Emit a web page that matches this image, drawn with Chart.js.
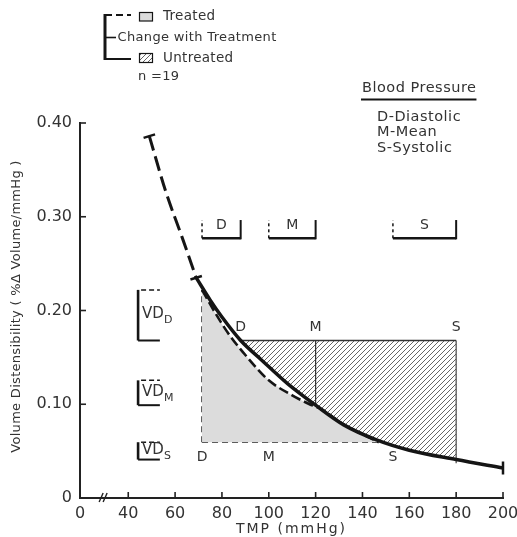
<!DOCTYPE html>
<html><head><meta charset="utf-8">
<script src="https://cdn.jsdelivr.net/npm/chart.js@4"></script>
<style>html,body{margin:0;padding:0;background:#fff}canvas{display:block}</style>
</head><body>
<canvas id="c" width="517" height="537"></canvas>
<script>
// ---------------- data ----------------
const untreatedX = [69, 75, 80, 88, 97, 108, 120, 132, 146, 160, 180, 200];
const untreatedY = [0.235, 0.211, 0.193, 0.168, 0.147, 0.122, 0.099, 0.078, 0.062, 0.051, 0.041, 0.032];
const extrapX = [49, 56, 63, 69];
const extrapY = [0.386, 0.327, 0.278, 0.235];
const treatedX = [71.5, 77, 82.6, 90, 100, 110, 117, 122.5, 132, 147];
const treatedY = [0.222, 0.198, 0.176, 0.1525, 0.1255, 0.1095, 0.1005, 0.0945, 0.0785, 0.0595];
const bpLetters = ['D', 'M', 'S'];
const bpNames = ['D-Diastolic', 'M-Mean', 'S-Systolic'];
const treatedBP = [71.5, 100, 153];
const treatedVD = [0.222, 0.1255, 0.0595];
const untreatedBP = [88, 120, 180];
const untreatedVD = [0.168, 0.099, 0.041];
const xTicks = [40, 60, 80, 100, 120, 140, 160, 180, 200];
const yTicks = [0, 0.1, 0.2, 0.3, 0.4];
const nSubjects = 19;

// ---------------- layout constants ----------------
const X_AXIS_START = 19.4;   // value at the broken-axis origin (labelled 0)
const BRACKET_Y = 0.277;     // top range brackets
const BRACKET_H = 0.0195;
const VD_BRACKET_X = 44.2;   // left VD brackets
const VD_BRACKET_X2 = 53.5;
const FONT = '"DejaVu Sans", sans-serif';
const INK = '#151515';
const TEXT = '#333';

// hatch pattern
function makeHatch() {
  const s = 5, c = document.createElement('canvas');
  c.width = s; c.height = s;
  const g = c.getContext('2d');
  g.strokeStyle = '#555'; g.lineWidth = 0.9;
  g.beginPath();
  g.moveTo(0, s); g.lineTo(s, 0);
  g.moveTo(-1, 1); g.lineTo(1, -1);
  g.moveTo(s - 1, s + 1); g.lineTo(s + 1, s - 1);
  g.stroke();
  return g.createPattern(c, 'repeat');
}
const hatch = makeHatch();
const GRAY = '#dcdcdc';

const pts = (xs, ys) => xs.map((x, i) => ({x, y: ys[i]}));
const seg = (x1, y1, x2, y2) => [{x: x1, y: y1}, {x: x2, y: y2}];

const lastU = untreatedX.length - 1;
const lastE = extrapX.length - 1;
const lastT = treatedX.length - 1;
const hatchPts = pts(untreatedX, untreatedY).filter(p => p.x >= untreatedBP[0] && p.x <= untreatedBP[2]);

const base = {fill: false, pointRadius: 0, clip: false, tension: 0};
const thin = (data, color, w, dash, order) => Object.assign({}, base, {
  data, borderColor: color, borderWidth: w, borderDash: dash || [], order
});

const datasets = [
  // solid untreated curve with end cap
  Object.assign({}, base, {
    data: pts(untreatedX, untreatedY), borderColor: INK, borderWidth: 3.5,
    cubicInterpolationMode: 'monotone', order: 0,
    pointStyle: 'line', pointRotation: 90,
    pointRadius: c => c.dataIndex === lastU ? 6.5 : 0,
    pointBorderColor: INK, pointBorderWidth: 2.5
  }),
  // dashed extrapolation with caps
  Object.assign({}, base, {
    data: pts(extrapX, extrapY), borderColor: INK, borderWidth: 3,
    borderDash: [15, 6], cubicInterpolationMode: 'monotone', order: 1,
    pointStyle: 'line', pointRotation: -17,
    pointRadius: c => (c.dataIndex === 0 || c.dataIndex === lastE) ? 6 : 0,
    pointBorderColor: INK, pointBorderWidth: 2.5
  }),
  // treated curve (dashed) with grey area beneath
  Object.assign({}, base, {
    data: pts(treatedX, treatedY), borderColor: INK, borderWidth: 2.6,
    borderDash: [10, 4], cubicInterpolationMode: 'monotone', order: 2,
    fill: {value: treatedVD[2]}, backgroundColor: GRAY
  }),
  // untreated hatched area
  Object.assign({}, base, {
    data: hatchPts, borderWidth: 0, borderColor: 'rgba(0,0,0,0)',
    cubicInterpolationMode: 'monotone', order: 9,
    fill: {value: untreatedVD[0]}, backgroundColor: hatch
  }),
  // untreated outline
  thin(seg(untreatedBP[0], untreatedVD[0], untreatedBP[2], untreatedVD[0]), '#333', 1.3, null, 5),
  thin(seg(untreatedBP[1], untreatedVD[0], untreatedBP[1], untreatedVD[1]), '#333', 1.2, null, 5),
  thin(seg(untreatedBP[2], untreatedVD[0], untreatedBP[2], untreatedVD[2] - 0.004), '#444', 1.2, null, 5),
  // treated outline (dashed)
  thin(seg(treatedBP[0], treatedVD[2], treatedBP[0], treatedVD[0]), '#333', 1.6, [6, 4], 5),
  thin(seg(treatedBP[0], treatedVD[2], treatedX[lastT], treatedVD[2]), '#333', 1.6, [6, 4], 5),
  thin(seg(treatedBP[1], treatedVD[2], treatedBP[1], treatedVD[1]), '#333', 1.6, [6, 4], 5)
];

// ---------------- annotation plugin ----------------
function text(ctx, s, x, y, size, align, spacing) {
  ctx.save();
  ctx.font = size + 'px ' + FONT;
  ctx.fillStyle = TEXT;
  ctx.textAlign = align || 'left';
  ctx.textBaseline = 'middle';
  if ('letterSpacing' in ctx) ctx.letterSpacing = (spacing || 0) + 'px';
  ctx.fillText(s, x, y);
  const w = ctx.measureText(s).width;
  ctx.restore();
  return w;
}
function line(ctx, x1, y1, x2, y2, w, dash, color) {
  ctx.save();
  ctx.strokeStyle = color || INK;
  ctx.lineWidth = w;
  ctx.setLineDash(dash || []);
  ctx.beginPath(); ctx.moveTo(x1, y1); ctx.lineTo(x2, y2); ctx.stroke();
  ctx.restore();
}

const annotations = {
  id: 'annotations',
  afterDraw(chart) {
    const ctx = chart.ctx, ca = chart.chartArea;
    const X = v => chart.scales.x.getPixelForValue(v);
    const Y = v => chart.scales.y.getPixelForValue(v);

    // inner tick marks
    xTicks.forEach(v => line(ctx, X(v), ca.bottom, X(v), ca.bottom - 6, 1.6, null, '#222'));
    yTicks.slice(1).forEach(v => line(ctx, ca.left, Y(v), ca.left + 6, Y(v), 1.6, null, '#222'));
    // axis break //
    const bx = (ca.left + X(xTicks[0])) / 2;
    line(ctx, bx - 5, ca.bottom + 4, bx - 1, ca.bottom - 5, 1.4, null, '#222');
    line(ctx, bx - 1, ca.bottom + 4, bx + 3, ca.bottom - 5, 1.4, null, '#222');

    // axis titles
    text(ctx, 'TMP (mmHg)', (ca.left + ca.right) / 2, 529, 14, 'center', 2);
    ctx.save();
    ctx.translate(17, (ca.top + ca.bottom) / 2 - 4);
    ctx.rotate(-Math.PI / 2);
    text(ctx, 'Volume Distensibility ( %\u0394 Volume/mmHg )', 0, 0, 13, 'center', 0.3);
    ctx.restore();

    // top range brackets
    const by = Y(BRACKET_Y), bt = Y(BRACKET_Y + BRACKET_H);
    for (let i = 0; i < 3; i++) {
      const x1 = X(treatedBP[i]), x2 = X(untreatedBP[i]);
      line(ctx, x1, by, x2, by, 2.6);
      line(ctx, x2, by + 1, x2, bt, 2);
      line(ctx, x1, by, x1, bt, 1.5, [3, 3]);
      text(ctx, bpLetters[i], (x1 + x2) / 2, by - 13, 14, 'center');
    }

    // point labels on the chart
    for (let i = 0; i < 3; i++) {
      text(ctx, bpLetters[i], X(untreatedBP[i]), Y(untreatedVD[0]) - 13, 14, 'center');
      text(ctx, bpLetters[i], X(treatedBP[i]), Y(treatedVD[2]) + 15, 14, 'center');
    }

    // left VD brackets
    const vx = X(VD_BRACKET_X), vx2 = X(VD_BRACKET_X2);
    for (let i = 0; i < 3; i++) {
      const yt = Y(treatedVD[i]), yb = Y(untreatedVD[i]);
      line(ctx, vx, yt, vx, yb, 2.6);
      line(ctx, vx + 3, yt, vx2, yt, 1.5, [5, 3]);
      line(ctx, vx, yb, vx2, yb, 2);
      const my = (yt + yb) / 2;
      const w = text(ctx, 'VD', vx + 4, my - 1, 15, 'left');
      text(ctx, bpLetters[i], vx + 4 + w, my + 5, 11, 'left');
    }

    // top-left legend
    line(ctx, 105, 14, 105, 60, 3);
    line(ctx, 105, 15, 131, 15, 2, [7, 4]);
    ctx.save();
    ctx.fillStyle = GRAY; ctx.fillRect(139.5, 12.5, 13, 8.5);
    ctx.strokeStyle = INK; ctx.lineWidth = 1.2; ctx.strokeRect(139.5, 12.5, 13, 8.5);
    ctx.fillStyle = hatch; ctx.fillRect(139.5, 53.5, 13, 9);
    ctx.strokeRect(139.5, 53.5, 13, 9);
    ctx.restore();
    text(ctx, 'Treated', 163, 16.5, 13.5, 'left', 0.3);
    line(ctx, 105, 37.5, 116, 37.5, 1.6);
    text(ctx, 'Change with Treatment', 117.5, 37.5, 13, 'left', 0.35);
    line(ctx, 105, 59, 131, 59, 2);
    text(ctx, 'Untreated', 163, 58, 13.5, 'left', 0.3);
    text(ctx, 'n =' + nSubjects, 138, 77, 13, 'left', 0.3);

    // blood pressure key
    const kw = text(ctx, 'Blood Pressure', 362, 88, 14.5, 'left', 0.5);
    line(ctx, 361, 99.5, 362 + kw, 99.5, 2);
    bpNames.forEach((s, i) => text(ctx, s, 377, 117 + i * 15.7, 14.5, 'left', 0.5));
  }
};

new Chart(document.getElementById('c'), {
  type: 'line',
  data: {datasets},
  plugins: [annotations],
  options: {
    responsive: false,
    animation: false,
    devicePixelRatio: 1,
    layout: {padding: {top: 123, right: 14, left: 0, bottom: 0}},
    plugins: {legend: {display: false}, tooltip: {enabled: false}, title: {display: false}},
    scales: {
      x: {
        type: 'linear', min: X_AXIS_START, max: 200,
        afterBuildTicks: s => { s.ticks = [{value: X_AXIS_START}].concat(xTicks.map(v => ({value: v}))); },
        afterFit: s => { s.height = 39; s.paddingLeft = 0; s.paddingRight = 0; },
        grid: {display: false, drawTicks: false},
        border: {display: true, color: '#222', width: 2},
        ticks: {
          autoSkip: false, maxRotation: 0, padding: 6, color: TEXT,
          font: {family: FONT, size: 16},
          callback: v => v === X_AXIS_START ? '0' : String(v)
        }
      },
      y: {
        type: 'linear', min: 0, max: 0.4,
        afterBuildTicks: s => { s.ticks = yTicks.map(v => ({value: v})); },
        afterFit: s => { s.width = 80; s.paddingTop = 0; s.paddingBottom = 0; },
        grid: {display: false, drawTicks: false},
        border: {display: true, color: '#222', width: 2},
        ticks: {
          padding: 8, color: TEXT,
          font: {family: FONT, size: 16},
          callback: v => v === 0 ? '0' : v.toFixed(2)
        }
      }
    }
  }
});
</script>
</body></html>
